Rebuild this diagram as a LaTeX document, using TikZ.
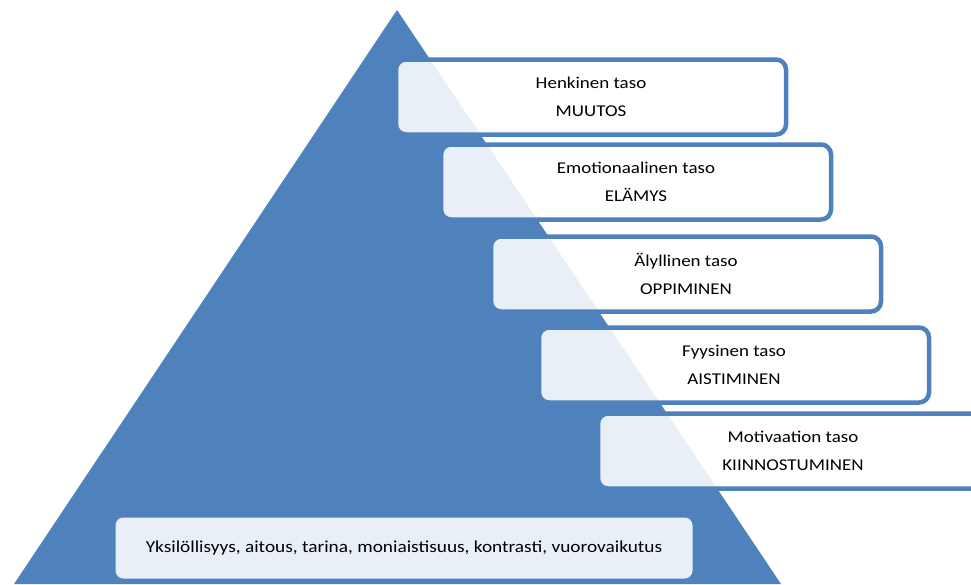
\documentclass[tikz,border=0pt]{standalone}
\usepackage{xcolor}
\usepackage{fontspec}
\setmainfont{Carlito}[FakeStretch=1.15]
\definecolor{pyramidblue}{HTML}{4F81BD}

\begin{document}
\begin{tikzpicture}[x=1pt, y=-1pt,
	taso/.style={draw=pyramidblue, line width=4.5pt, rounded corners=10pt,
		fill=white, fill opacity=0.88, text opacity=1,
		minimum width=390pt, minimum height=75pt, align=center,
		font=\fontsize{16.5}{28}\selectfont},
	pohja/.style={fill=white, fill opacity=0.88, text opacity=1,
		rounded corners=8pt, minimum width=577pt, minimum height=61pt,
		font=\fontsize{16.8}{28}\selectfont}]
				% We will draw the pyramid here
				\useasboundingbox (0,0) rectangle (971,584);
				\clip (0,0) rectangle (971,584);
				\fill[pyramidblue] (397,10) -- (781,584) -- (14,584) -- cycle;
				
				% the levels
				\node[taso] (henkinen) at (591,97) {Henkinen taso\\MUUTOS};
				\node[taso] (emotionaalinen) at (636,182) {Emotionaalinen taso\\ELÄMYS};
				\node[taso] (alyllinen) at (686,274) {Älyllinen taso\\OPPIMINEN};
				\node[taso] (fyysinen) at (734,365) {Fyysinen taso\\AISTIMINEN};
				\node[taso] (motivaatio) at (793,451) {Motivaation taso\\KIINNOSTUMINEN};
				
				\node[pohja] (pohja) at (404,548) {Yksilöllisyys, aitous, tarina, moniaistisuus, kontrasti, vuorovaikutus};
				
			\end{tikzpicture}
\end{document}
